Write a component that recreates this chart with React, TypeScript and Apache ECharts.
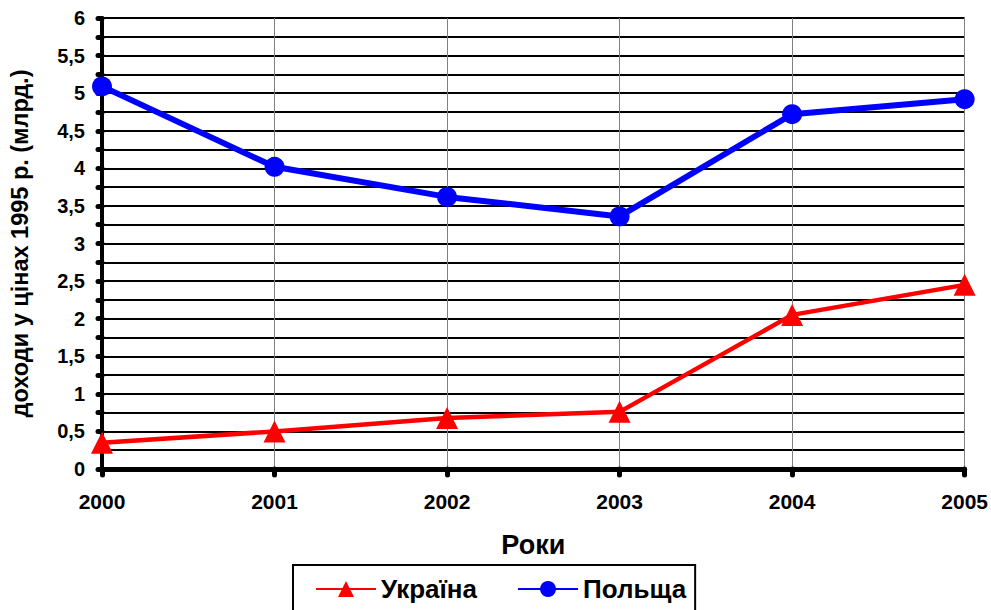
import React, { useEffect, useRef } from "react";
import * as echarts from "echarts";

const years = ["2000", "2001", "2002", "2003", "2004", "2005"];
const ukraine = [0.35, 0.5, 0.68, 0.76, 2.05, 2.45];
const poland = [5.09, 4.02, 3.62, 3.36, 4.72, 4.92];
const yAxisName = "доходи у цінах 1995 р. (млрд.)";
const xAxisName = "Роки";

const FONT = "'Liberation Sans', Arial, sans-serif";

export default function App() {
  const ref = useRef<HTMLDivElement>(null);
  useEffect(() => {
    if (!ref.current) return;
    const chart = echarts.init(ref.current, undefined, { renderer: "svg" });
    chart.setOption({
      animation: false,
      backgroundColor: "#fff",
      textStyle: { fontFamily: FONT },
      grid: { left: 94, right: 25, top: 18, bottom: 141, containLabel: false },
      legend: {
        left: 293,
        top: 565,
        padding: [11, 9, 30, 22],
        borderColor: "#000",
        borderWidth: 2,
        itemWidth: 60,
        itemHeight: 20,
        itemGap: 40,
        textStyle: { fontFamily: FONT, fontWeight: "bold", fontSize: 26, color: "#000" },
        data: ["Україна", "Польща"],
      },
      xAxis: {
        type: "category",
        data: years,
        boundaryGap: false,
        name: xAxisName,
        nameLocation: "middle",
        nameGap: 62,
        nameTextStyle: { fontFamily: FONT, fontWeight: "bold", fontSize: 27, color: "#000" },
        axisLine: { lineStyle: { color: "#000", width: 5 } },
        axisTick: { show: true, inside: false, length: 6, lineStyle: { color: "#000", width: 5, cap: "round" } },
        axisLabel: { margin: 22, fontFamily: FONT, fontWeight: "bold", fontSize: 21, color: "#000" },
        splitLine: { show: true, lineStyle: { color: "#808080", width: 1 } },
        z: 1,
      },
      yAxis: {
        type: "value",
        min: 0,
        max: 6,
        interval: 0.25,
        name: yAxisName,
        nameLocation: "middle",
        nameGap: 70,
        nameTextStyle: { fontFamily: FONT, fontWeight: "bold", fontSize: 23.5, color: "#000" },
        axisLine: { show: true, lineStyle: { color: "#000", width: 4 } },
        axisTick: { show: true, length: 4, lineStyle: { color: "#000", width: 5, cap: "round" } },
        axisLabel: {
          margin: 17,
          fontFamily: FONT,
          fontWeight: "bold",
          fontSize: 20,
          color: "#000",
          formatter: (v: number) => (Math.abs(v * 2 - Math.round(v * 2)) < 1e-9 ? String(v).replace(".", ",") : ""),
        },
        splitLine: { show: true, lineStyle: { color: "#000", width: 2 } },
        z: 1,
      },
      series: [
        {
          name: "Україна",
          type: "line",
          data: ukraine,
          symbol: "triangle",
          symbolSize: 22,
          lineStyle: { color: "#FF0000", width: 4.5 },
          itemStyle: { color: "#FF0000" },
          z: 3,
        },
        {
          name: "Польща",
          type: "line",
          data: poland,
          symbol: "circle",
          symbolSize: 20,
          lineStyle: { color: "#0000FF", width: 6 },
          itemStyle: { color: "#0000FF" },
          z: 3,
        },
      ],
    });
    return () => chart.dispose();
  }, []);
  return (
    <div
      ref={ref}
      style={{ position: "absolute", left: 0, top: 0, width: 991, height: 610 }}
    />
  );
}
